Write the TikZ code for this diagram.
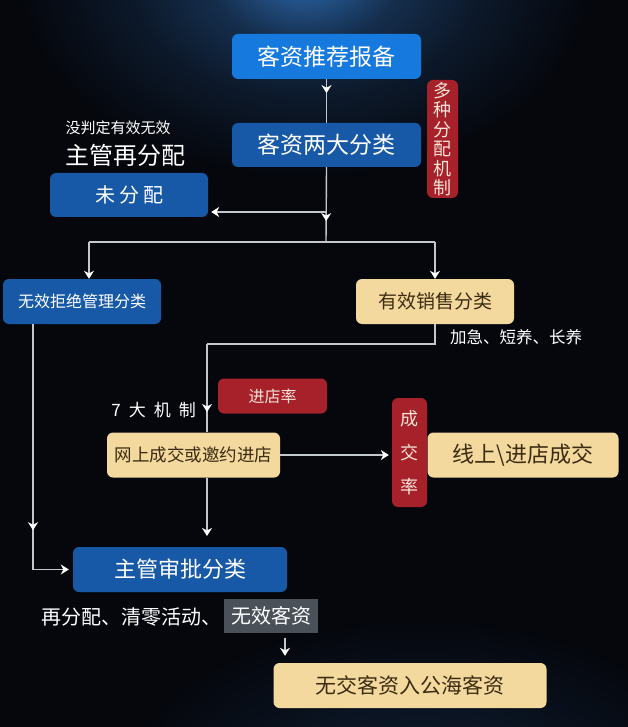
\documentclass[tikz,border=0pt]{standalone}
\usepackage{fontspec}
\setmainfont{Noto Sans CJK SC}
\usetikzlibrary{arrows.meta,decorations.markings,calc}
\definecolor{bg}{HTML}{05070D}
\definecolor{glow}{HTML}{2C68AC}
\definecolor{bblue}{HTML}{1679DD}
\definecolor{dblue}{HTML}{1759A6}
\definecolor{cream}{HTML}{F4D99E}
\definecolor{ctext}{HTML}{3A2B12}
\definecolor{rred}{HTML}{A6212A}
\definecolor{rtext}{HTML}{F6E4D6}
\definecolor{lgray}{HTML}{C3C8CE}
\definecolor{gbox}{HTML}{4B5159}
\pgfdeclareradialshading{topglow}{\pgfpoint{0bp}{0bp}}{color(0bp)=(glow); color(3bp)=(glow!75!bg); color(7bp)=(glow!40!bg); color(13bp)=(glow!18!bg); color(21bp)=(bg); color(25bp)=(bg); color(50bp)=(bg)}
\pgfdeclareradialshading{botglow}{\pgfpoint{0bp}{0bp}}{color(0bp)=(glow!25!bg); color(15bp)=(glow!10!bg); color(25bp)=(bg); color(50bp)=(bg)}
\tikzset{
  box/.style={rounded corners=6pt,inner sep=0pt,align=center},
  bluebox/.style={box,fill=dblue,text=white},
  bbox/.style={box,fill=bblue,text=white},
  creambox/.style={box,fill=cream,text=ctext},
  redbox/.style={box,fill=rred,text=rtext},
  wtext/.style={text=white,inner sep=0pt},
  conn/.style={draw=lgray,line width=1.4pt},
  tipw/.tip={Stealth[width=10pt,length=8pt,inset=2.5pt,color=white]},
  arr/.style={conn,-tipw},
  midarr/.style={conn,postaction={decorate},decoration={markings,mark=at position #1 with {\arrow{tipw}}}},
  fs/.style={font=\fontsize{#1}{#1}\selectfont}
}
\begin{document}
\begin{tikzpicture}[x=1pt,y=-1pt]
\useasboundingbox (0,0) rectangle (628,727);
\fill[bg] (0,0) rectangle (628,727);
\begin{scope}
\clip (0,0) rectangle (628,727);
\shade[shading=botglow] (420,790) ellipse [x radius=300pt,y radius=170pt];
\shade[shading=topglow] (305,-25) ellipse [x radius=340pt,y radius=240pt];
\end{scope}

% nodes
\node[bbox,minimum width=189pt,minimum height=45pt,fs=23] (b1) at (326.5,56.5) {客资推荐报备};
\node[bluebox,minimum width=189pt,minimum height=44pt,fs=23] (b2) at (326.5,145) {客资两大分类};
\node[redbox,minimum width=31pt,minimum height=118pt,font=\fontsize{18}{19.5}\selectfont] (r1) at (442.5,139) {多\\种\\分\\配\\机\\制};
\node[wtext,fs=15] (t1) at (118,128) {没判定有效无效};
\node[wtext,fs=24] (t2) at (125,155) {主管再分配};
\node[bluebox,minimum width=158pt,minimum height=44pt,fs=20] (b3) at (129,195) {未\hspace{4pt}分\hspace{4pt}配};
\node[bluebox,minimum width=158pt,minimum height=45pt,fs=16] (b4) at (82,301.5) {无效拒绝管理分类};
\node[creambox,minimum width=158pt,minimum height=45pt,fs=19] (b5) at (435,301.5) {有效销售分类};
\node[wtext,fs=16.5] (t3) at (516,337) {加急、短养、长养};
\node[wtext,fs=17,anchor=east] (t4) at (196,410) {7\hspace{8pt}大\hspace{8pt}机\hspace{8pt}制};
\node[redbox,minimum width=109pt,minimum height=35pt,fs=16] (r2) at (272.5,396) {进店率};
\node[creambox,minimum width=173pt,minimum height=45pt,fs=17.5] (b6) at (193.5,455) {网上成交或邀约进店};
\node[redbox,minimum width=35pt,minimum height=109pt,font=\fontsize{18}{34}\selectfont] (r3) at (409.5,452.5) {成\\交\\率};
\node[creambox,minimum width=191pt,minimum height=45pt,fs=22] (b7) at (523,455) {线上\textbackslash 进店成交};
\node[bluebox,minimum width=214pt,minimum height=45pt,fs=22] (b8) at (180,569.5) {主管审批分类};
\node[wtext,fs=20,anchor=east] (t5) at (222,617) {再分配、清零活动、};
\node[fill=gbox,text=white,inner sep=0pt,minimum width=94pt,minimum height=34pt,fs=20] (g) at (271,616) {无效客资};
\node[creambox,minimum width=273pt,minimum height=45pt,fs=21] (b9) at (410,685.5) {无交客资入公海客资};

% coordinates
\coordinate (j1) at (326,242);
\coordinate (k) at (326,212);
\coordinate (jl) at (89,242);
\coordinate (jr) at (435,242);
\coordinate (c1) at (207,344);
\coordinate (c3) at (207,536);
\coordinate (c4) at (33,569.5);
\coordinate (c5) at (285,638);

% connectors
\draw[midarr=0.32] (b1.south) -- (b2.north);
\draw[midarr=0.72] (b2.south) -- (j1);
\draw[arr,shorten >=3pt] (k) -- (b3.east |- k);
\draw[conn] (jl) -- (jr);
\draw[arr] (jl) -- (jl |- b4.north);
\draw[arr] (jr) -- (b5.north);
\draw[conn] (b5.south) |- (c1);
\draw[midarr=0.77] (c1) -- (c1 |- b6.north);
\draw[arr,shorten >=3pt] (b6.east) -- (b6.east -| r3.west);
\draw[arr] (c1 |- b6.south) -- (c3);
\draw[midarr=0.84] (c4 |- b4.south) -- (c4);
\draw[arr,shorten >=4pt] (c4) -- (b8.west);
\draw[arr,shorten >=7pt] (c5) -- (c5 |- b9.north);
\end{tikzpicture}
\end{document}
